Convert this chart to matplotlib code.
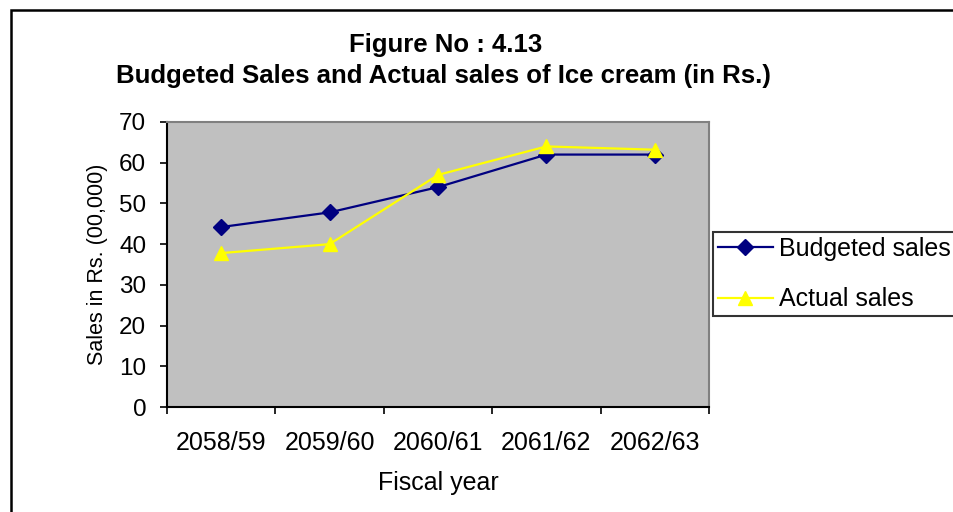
import matplotlib
matplotlib.use("Agg")
import matplotlib.pyplot as plt
from matplotlib.patches import Rectangle

years = ["2058/59", "2059/60", "2060/61", "2061/62", "2062/63"]
budgeted_sales = [44.2, 47.8, 54.0, 62.0, 62.0]
actual_sales = [37.8, 40.0, 57.0, 64.0, 63.2]

plt.rcParams["font.family"] = ["Liberation Sans", "DejaVu Sans"]

fig = plt.figure(figsize=(9.54, 5.12), dpi=100)
ax = fig.add_axes([167 / 954, 1 - 407 / 512, 542 / 954, 285 / 512])
ax.set_facecolor("#C0C0C0")

x = list(range(len(years)))
ax.plot(x, budgeted_sales, color="#000080", lw=1.6, marker="D", ms=8,
        label="Budgeted sales")
ax.plot(x, actual_sales, color="#FFFF00", lw=1.6, marker="^", ms=10.5,
        label="Actual sales")

ax.set_xlim(-0.5, len(years) - 0.5)
ax.set_ylim(0, 70)
ax.set_yticks(range(0, 71, 10))
ax.tick_params(axis="y", direction="out", length=5, width=1.2, pad=10,
               labelsize=17.5)

# boundary ticks between categories, labels centred on each category
ax.set_xticks([i - 0.5 for i in range(len(years) + 1)])
ax.set_xticklabels([])
ax.set_xticks(x, minor=True)
ax.set_xticklabels(years, minor=True)
ax.tick_params(axis="x", which="major", direction="out", length=5, width=1.2)
ax.tick_params(axis="x", which="minor", length=0, pad=17, labelsize=18)

for side in ("top", "right"):
    ax.spines[side].set_color("#808080")
    ax.spines[side].set_linewidth(1.5)
for side in ("left", "bottom"):
    ax.spines[side].set_color("black")
    ax.spines[side].set_linewidth(1.5)

ax.set_xlabel("Fiscal year", fontsize=18, labelpad=12)
ax.set_ylabel("Sales in Rs. (00,000)", fontsize=15.5, labelpad=8)

fig.text(446 / 954, 1 - 45 / 512, "Figure No : 4.13", ha="center",
         va="center", fontsize=18.5, fontweight="bold")
fig.text(443 / 954, 1 - 76 / 512,
         "Budgeted Sales and Actual sales of Ice cream (in Rs.)",
         ha="center", va="center", fontsize=18.5, fontweight="bold")

leg = fig.legend(loc="upper left", bbox_to_anchor=(713 / 954, 1 - 232 / 512),
                 fontsize=18, frameon=True, fancybox=False, handlelength=2.2,
                 labelspacing=1.05, borderpad=0.2, handletextpad=0.25,
                 borderaxespad=0)
leg.get_frame().set_edgecolor("black")
leg.get_frame().set_linewidth(1.5)

# outer chart border, running off the right and bottom edges
fig.patches.append(Rectangle((11 / 954, -0.1), 1.2, 1.1 - 10 / 512,
                             transform=fig.transFigure, fill=False,
                             edgecolor="black", lw=1.8))

fig.savefig("out.png", dpi=100)
